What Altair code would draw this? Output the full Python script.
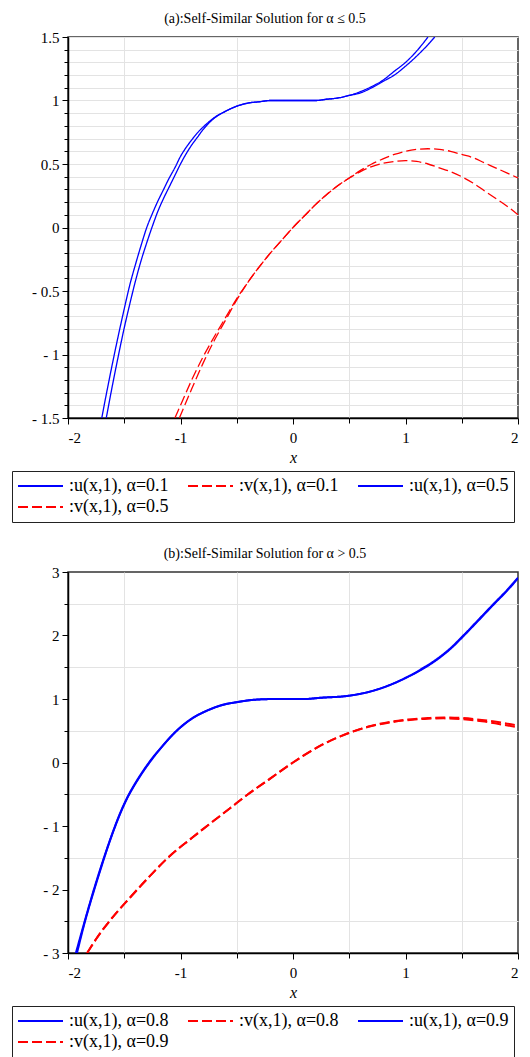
import altair as alt
import pandas as pd

# ---------------- Panel (a) data ----------------
ua1_x = [-1.70,-1.65,-1.60,-1.55,-1.50,-1.45,-1.40,-1.35,-1.30,-1.25,-1.20,-1.15,-1.10,-1.05,-1.00,-0.95,-0.90,-0.85,-0.80,-0.75,-0.70,-0.60,-0.50,-0.40,-0.30,-0.20,-0.10,0.00,0.10,0.20,0.30,0.40,0.50,0.60,0.70,0.80,0.90,1.00,1.10,1.20,1.26]
ua1_y = [-1.50,-1.27,-1.05,-0.84,-0.64,-0.45,-0.29,-0.14,0.00,0.11,0.21,0.30,0.39,0.47,0.56,0.63,0.69,0.745,0.79,0.83,0.865,0.915,0.955,0.98,0.99,1.00,1.00,1.00,1.00,1.00,1.01,1.02,1.04,1.06,1.10,1.15,1.20,1.27,1.35,1.44,1.50]
ua5_x = [-1.66,-1.60,-1.55,-1.50,-1.45,-1.40,-1.35,-1.30,-1.25,-1.20,-1.15,-1.10,-1.05,-1.00,-0.95,-0.90,-0.85,-0.80,-0.75,-0.70,-0.60,-0.50,-0.40,-0.30,-0.20,-0.10,0.00,0.10,0.20,0.30,0.40,0.50,0.60,0.70,0.80,0.90,1.00,1.10,1.20]
ua5_y = [-1.50,-1.22,-1.00,-0.79,-0.60,-0.42,-0.26,-0.12,0.01,0.13,0.23,0.32,0.41,0.50,0.58,0.65,0.71,0.77,0.82,0.86,0.915,0.955,0.98,0.99,1.00,1.00,1.00,1.00,1.00,1.01,1.02,1.04,1.07,1.11,1.16,1.23,1.30,1.39,1.50]
va1_x = [-1.05,-1.00,-0.90,-0.80,-0.70,-0.60,-0.50,-0.40,-0.30,-0.20,-0.10,0.00,0.10,0.20,0.30,0.40,0.50,0.60,0.70,0.80,0.90,1.00,1.10,1.20,1.30,1.40,1.50,1.60,1.70,1.80,1.90,2.00]
va1_y = [-1.50,-1.40,-1.20,-1.02,-0.86,-0.71,-0.56,-0.43,-0.31,-0.20,-0.10,0.00,0.09,0.18,0.26,0.33,0.39,0.45,0.50,0.54,0.575,0.60,0.615,0.62,0.615,0.60,0.575,0.55,0.51,0.47,0.43,0.39]
va5_x = [-1.01,-0.90,-0.80,-0.70,-0.60,-0.50,-0.40,-0.30,-0.20,-0.10,0.00,0.10,0.20,0.30,0.40,0.50,0.60,0.70,0.80,0.90,1.00,1.10,1.20,1.30,1.40,1.50,1.60,1.70,1.80,1.90,2.00]
va5_y = [-1.50,-1.27,-1.07,-0.89,-0.73,-0.57,-0.43,-0.31,-0.20,-0.10,0.00,0.09,0.18,0.26,0.33,0.39,0.44,0.48,0.505,0.52,0.527,0.52,0.50,0.47,0.44,0.40,0.35,0.29,0.23,0.17,0.10]

# ---------------- Panel (b) data ----------------
ub8_x = [-1.93,-1.85,-1.78,-1.71,-1.65,-1.59,-1.53,-1.47,-1.41,-1.35,-1.25,-1.15,-1.04,-0.90,-0.76,-0.62,-0.50,-0.33,-0.15,0.00,0.10,0.25,0.49,0.69,0.86,1.01,1.14,1.28,1.40,1.52,1.65,1.79,1.90,2.00]
ub8_y = [-3.00,-2.49,-2.06,-1.66,-1.34,-1.04,-0.77,-0.54,-0.35,-0.18,0.07,0.28,0.49,0.69,0.82,0.91,0.95,0.99,1.00,1.00,1.00,1.02,1.05,1.12,1.22,1.34,1.46,1.62,1.79,2.00,2.24,2.50,2.70,2.90]
ub9_x = [-1.92,-1.85,-1.78,-1.71,-1.65,-1.59,-1.53,-1.47,-1.41,-1.35,-1.25,-1.15,-1.04,-0.90,-0.76,-0.62,-0.50,-0.33,-0.15,0.00,0.10,0.25,0.49,0.69,0.86,1.01,1.14,1.28,1.40,1.52,1.65,1.79,1.90,2.00]
ub9_y = [-3.00,-2.51,-2.08,-1.68,-1.35,-1.05,-0.78,-0.55,-0.36,-0.19,0.06,0.28,0.49,0.69,0.82,0.91,0.95,0.99,1.00,1.00,1.00,1.02,1.05,1.12,1.22,1.34,1.47,1.63,1.80,2.01,2.25,2.51,2.71,2.91]
vb8_x = [-1.83,-1.75,-1.60,-1.45,-1.30,-1.10,-0.90,-0.75,-0.56,-0.40,-0.20,0.00,0.10,0.26,0.49,0.69,0.86,1.01,1.20,1.34,1.51,1.68,1.85,2.00]
vb8_y = [-3.00,-2.78,-2.43,-2.13,-1.84,-1.48,-1.19,-0.98,-0.72,-0.50,-0.25,0.00,0.115,0.28,0.46,0.575,0.64,0.675,0.70,0.71,0.70,0.67,0.63,0.58]
vb9_x = [-1.83,-1.75,-1.60,-1.45,-1.30,-1.10,-0.90,-0.75,-0.56,-0.40,-0.20,0.00,0.10,0.26,0.49,0.69,0.86,1.01,1.20,1.34,1.51,1.68,1.85,2.00]
vb9_y = [-3.00,-2.78,-2.43,-2.13,-1.84,-1.48,-1.19,-0.98,-0.72,-0.50,-0.25,0.00,0.115,0.28,0.46,0.57,0.63,0.665,0.69,0.695,0.68,0.65,0.60,0.555]

names_a = [":u(x,1), α=0.1", ":v(x,1), α=0.1", ":u(x,1), α=0.5", ":v(x,1), α=0.5"]
names_b = [":u(x,1), α=0.8", ":v(x,1), α=0.8", ":u(x,1), α=0.9", ":v(x,1), α=0.9"]

a_x_minor = [-1.5, -0.5, 0.5, 1.5]
x_major = [-2, -1, 0, 1, 2]
a_y_major = [-1.5, -1, -0.5, 0, 0.5, 1, 1.5]
a_y_minor = [round(-1.5 + 0.1 * i, 1) for i in range(31)]
b_y_major = [-3, -2, -1, 0, 1, 2, 3]
b_y_minor = [-2.5, -1.5, -0.5, 0.5, 1.5, 2.5]

SERIF = "Liberation Serif"
COLORS = ["#0000ff", "#ff0000", "#0000ff", "#ff0000"]
DASHES = [[1, 0], [10, 4], [1, 0], [10, 4]]


def frame(pairs, names):
    dfs = []
    for (xs, ys), n in zip(pairs, names):
        dfs.append(pd.DataFrame({"x": xs, "y": ys, "series": n}))
    return pd.concat(dfs, ignore_index=True)


def panel(df, names, ydom, y_major, y_minor, title, w, h, lx, ly, sw):
    xs = alt.Scale(domain=[-2, 2], nice=False, zero=False)
    ys = alt.Scale(domain=ydom, nice=False, zero=False)
    leg = alt.Legend(
        title=None, orient="none", legendX=lx, legendY=ly, direction="horizontal",
        columns=3, symbolType="stroke", symbolSize=2025, symbolStrokeWidth=2,
        clipHeight=20, labelFont=SERIF, labelFontSize=18, labelLimit=400, labelColor="black",
        labelOffset=5, columnPadding=18, rowPadding=1, padding=5,
        strokeColor="#222222", fillColor="white", gridAlign="all",
    )
    minor = alt.Chart(df).mark_line(opacity=0).encode(
        x=alt.X("x:Q", scale=xs, axis=alt.Axis(
            values=a_x_minor, labels=False, title=None, orient="bottom",
            gridColor="#e3e3e3", gridWidth=1, tickSize=5, tickColor="black", domain=False)),
        y=alt.Y("y:Q", scale=ys, axis=alt.Axis(
            values=y_minor, labels=False, title=None, orient="left",
            gridColor="#e3e3e3", gridWidth=1, tickSize=4, tickColor="black", domain=False)),
        detail="series:N",
    )
    main = alt.Chart(df).mark_line(clip=True, strokeWidth=sw, interpolate="monotone").encode(
        x=alt.X("x:Q", scale=xs, axis=alt.Axis(
            values=x_major, title="x", orient="bottom",
            labelExpr="datum.value < 0 ? '-' + format(-datum.value, '') : format(datum.value, '')",
            labelFont=SERIF, labelFontSize=15, labelColor="black", labelPadding=6,
            titleFont=SERIF, titleFontSize=16, titleFontStyle="italic", titleFontWeight="normal",
            titleColor="black", titlePadding=4,
            gridColor="#b5b5b5", gridWidth=1, tickSize=6, tickColor="black",
            domainColor="black", domainWidth=1.5)),
        y=alt.Y("y:Q", scale=ys, axis=alt.Axis(
            values=y_major, title=None, orient="left",
            labelExpr="datum.value < 0 ? '- ' + format(-datum.value, '') : format(datum.value, '')",
            labelFont=SERIF, labelFontSize=15, labelColor="black", labelPadding=3,
            gridColor="#b5b5b5", gridWidth=1, tickSize=6, tickColor="black",
            domainColor="black", domainWidth=1.5)),
        color=alt.Color("series:N", scale=alt.Scale(domain=names, range=COLORS), legend=leg),
        strokeDash=alt.StrokeDash("series:N", scale=alt.Scale(domain=names, range=DASHES), legend=leg),
    )
    return alt.layer(minor, main).resolve_axis(x="independent", y="independent").properties(
        width=w, height=h,
        title=alt.TitleParams(title, font=SERIF, fontSize=14, fontWeight="normal", color="black",
                              anchor="middle", frame="bounds", offset=4),
    )


df_a = frame([(ua1_x, ua1_y), (va1_x, va1_y), (ua5_x, ua5_y), (va5_x, va5_y)], names_a)
df_b = frame([(ub8_x, ub8_y), (vb8_x, vb8_y), (ub9_x, ub9_y), (vb9_x, vb9_y)], names_b)

pa = panel(df_a, names_a, [-1.5, 1.5], a_y_major, a_y_minor,
           "(a):Self-Similar Solution for α ≤ 0.5", 450, 381, -56, 434, 1.3)
pb = panel(df_b, names_b, [-3, 3], b_y_major, b_y_minor,
           "(b):Self-Similar Solution for α > 0.5", 450, 381, -56, 434, 2)

chart = alt.concat(pa, pb, columns=1, spacing=22, align="none", bounds="full").resolve_scale(
    color="independent", strokeDash="independent"
).properties(
    padding={"left": 2, "top": 3, "right": 0, "bottom": 0}
).configure_view(stroke="#333333", strokeWidth=1.5)

chart.save("out.html", embed_options={"renderer": "svg", "actions": False})
